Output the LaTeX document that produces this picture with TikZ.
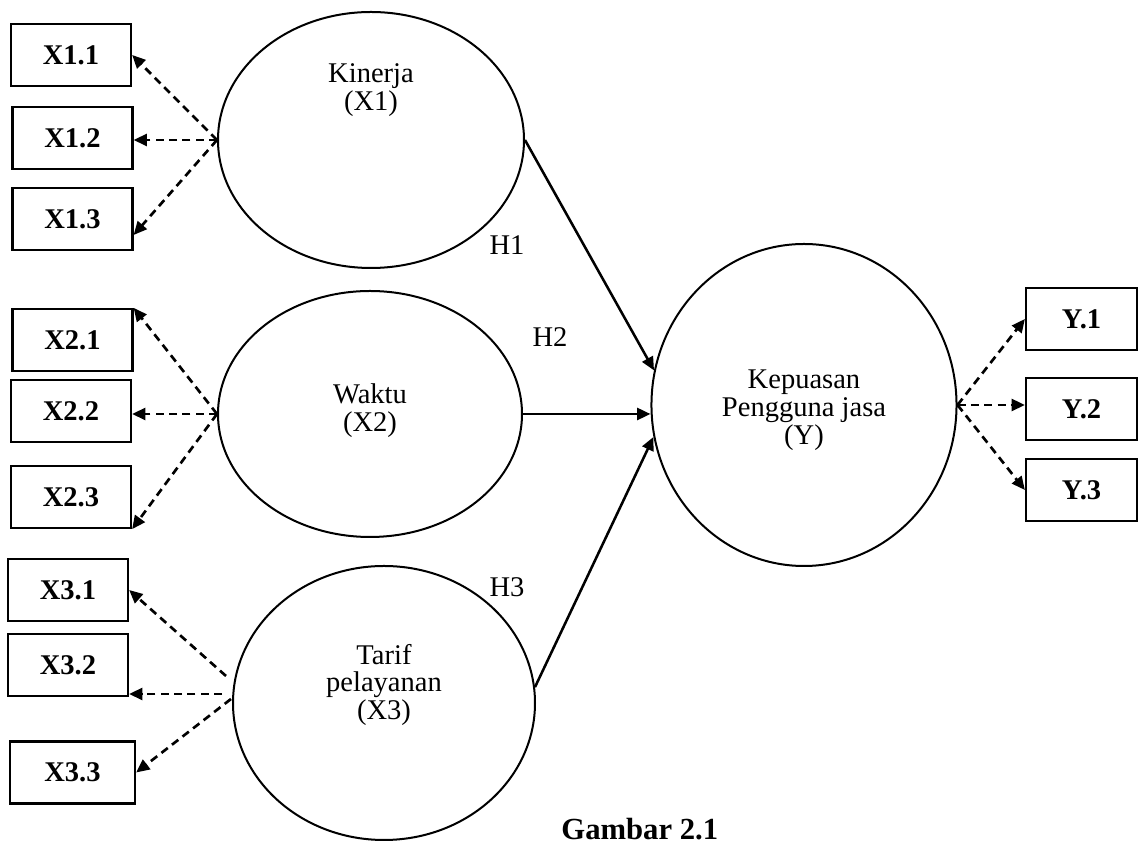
\documentclass[tikz,border=0pt]{standalone}
\usepackage{fontspec}
\setmainfont{Liberation Serif}
\usetikzlibrary{arrows.meta,shapes.geometric,positioning,calc}

\begin{document}
\begin{tikzpicture}[x=0.375pt,y=-0.375pt,
  font=\fontsize{10.7}{10.4}\selectfont,
  indbox/.style={draw,line width=0.85pt,minimum width=45pt,minimum height=23.25pt,inner sep=0pt,font=\fontsize{10.7}{10.4}\selectfont\bfseries},
  latent/.style={draw,ellipse,line width=0.75pt,inner sep=0pt},
  loading/.style={line width=1pt,dash pattern=on 3pt off 2pt,-{Triangle[length=5pt,width=4.5pt]}},
  hyp/.style={line width=0.95pt,-{Triangle[length=5pt,width=4.5pt]}},
  txt/.style={align=center}]
\useasboundingbox (0,0) rectangle (1138,843);
% latent variables
\node[latent,minimum width=114.75pt,minimum height=96pt] (kin) at (371,140) {};
\node[latent,minimum width=114pt,minimum height=92.25pt] (wak) at (370,414) {};
\node[latent,minimum width=113.25pt,minimum height=102.75pt] (tar) at (384,703) {};
\node[latent,minimum width=114.4pt,minimum height=120.75pt] (kep) at (804,405) {};
\node[txt] (kinT) at (371,90) {Kinerja\\(X1)};
\node[txt] (wakT) at (370,411) {Waktu\\(X2)};
\node[txt] (tarT) at (384,685) {Tarif\\pelayanan\\(X3)};
\node[txt] (kepT) at (804,410) {Kepuasan\\Pengguna jasa\\(Y)};
% indicators
\node[indbox] (x11) at (71,55) {X1.1};
\node[indbox] (x12) at (72.5,138) {X1.2};
\node[indbox] (x13) at (72.5,219) {X1.3};
\node[indbox] (x21) at (72.5,340) {X2.1};
\node[indbox] (x22) at (71,411) {X2.2};
\node[indbox] (x23) at (71,497) {X2.3};
\node[indbox] (x31) at (68,590) {X3.1};
\node[indbox] (x32) at (68,665) {X3.2};
\node[indbox,minimum width=46.9pt] (x33) at (72.5,772.5) {X3.3};
\node[indbox,minimum width=41.6pt] (y1) at (1081.5,319) {Y.1};
\node[indbox,minimum width=41.6pt] (y2) at (1081.5,409) {Y.2};
\node[indbox,minimum width=41.6pt] (y3) at (1081.5,490) {Y.3};
% loadings
\draw[loading] (kin.west) -- (x11.east);
\draw[loading] (kin.west) -- (kin.west -| x12.east);
\draw[loading] (kin.west) -- ($(x13.east)+(0,16)$);
\draw[loading] (wak.west) -- (x21.north east);
\draw[loading] (wak.west) -- (wak.west -| x22.east);
\draw[loading] (wak.west) -- (x23.south east);
\coordinate (t1) at ($(tar.west)+(-6,-27)$);
\coordinate (t2) at ($(tar.west)+(-10,-9)$);
\coordinate (t3) at ($(tar.west)+(-1,-4)$);
\draw[loading] (t1) -- (x31.east);
\draw[loading] (t2) -- (t2 -| x32.east);
\draw[loading] (t3) -- (x33.east);
\draw[loading] (kep.east) -- (y1.west);
\draw[loading] (kep.east) -- (kep.east -| y2.west);
\draw[loading] (kep.east) -- (y3.west);
% hypotheses
\draw[hyp] (kin.east) -- (kep.167);
\draw[hyp] (wak.east) -- (wak.east -| kep.west);
\draw[hyp] (tar.6) -- (kep.192);
\node (h1) at (507,245) {H1};
\node (h2) at (550,337) {H2};
\node (h3) at (507,587) {H3};
\node[anchor=base west,font=\fontsize{11.5}{12}\selectfont\bfseries] (cap) at (552,840) {Gambar 2.1};
\end{tikzpicture}
\end{document}
